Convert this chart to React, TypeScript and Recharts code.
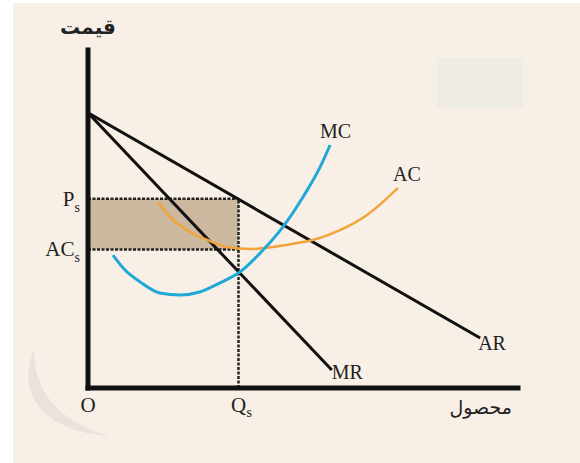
import React from "react";
import { LineChart, Line, XAxis, YAxis, ReferenceArea, ReferenceLine, ReferenceDot, Label } from "recharts";

// quantity on x (0-100), price on y (0-100)
const arPoints = [
  { x: 0, y: 81.4 },
  { x: 91.2, y: 14.8 },
];
const mrPoints = [
  { x: 0, y: 81.4 },
  { x: 56.7, y: 5.3 },
];
const mcPoints = [
  { x: 5.8, y: 39.3 },
  { x: 8.6, y: 34.9 },
  { x: 12.1, y: 31.4 },
  { x: 16.7, y: 28.1 },
  { x: 21.4, y: 27.5 },
  { x: 26.0, y: 28.4 },
  { x: 30.7, y: 31.1 },
  { x: 35.3, y: 34.3 },
  { x: 40.7, y: 40.8 },
  { x: 45.3, y: 47.6 },
  { x: 50.0, y: 56.5 },
  { x: 54.0, y: 65.4 },
  { x: 56.3, y: 71.9 },
];
const acPoints = [
  { x: 16.3, y: 55.0 },
  { x: 19.8, y: 49.7 },
  { x: 23.7, y: 46.2 },
  { x: 27.7, y: 43.8 },
  { x: 32.3, y: 41.7 },
  { x: 37.7, y: 41.1 },
  { x: 43.0, y: 41.7 },
  { x: 48.6, y: 42.9 },
  { x: 52.3, y: 43.8 },
  { x: 58.6, y: 46.7 },
  { x: 64.9, y: 51.2 },
  { x: 72.1, y: 59.2 },
];

const QS = 35;
const PS = 56;
const ACS = 41;

const xTicks = [0, QS];
const yTicks = [ACS, PS];
const xTickLabels: Record<number, [string, string]> = { 0: ["O", ""], [QS]: ["Q", "s"] };
const yTickLabels: Record<number, [string, string]> = { [PS]: ["P", "s"], [ACS]: ["AC", "s"] };

const serif = "'Liberation Serif', 'DejaVu Serif', serif";
const persian = "'DejaVu Sans', sans-serif";
const ink = "#111";

function XTick(props: any) {
  const { x, y, payload } = props;
  const [main, sub] = xTickLabels[payload.value] ?? [String(payload.value), ""];
  return (
    <g>
      <text x={x} y={y + 24} textAnchor="middle" fontFamily={serif} fontSize={21} fill="#222">
        {main}
      </text>
      {sub && (
        <text x={x + 8} y={y + 29} fontFamily={serif} fontSize={14} fill="#222">
          {sub}
        </text>
      )}
    </g>
  );
}

function YTick(props: any) {
  const { x, y, payload } = props;
  const [main, sub] = yTickLabels[payload.value] ?? [String(payload.value), ""];
  return (
    <text x={x} y={y + 7} textAnchor="end" fontFamily={serif} fontSize={21} fill="#222">
      {main}
      <tspan fontSize={14} dy={6}>
        {sub}
      </tspan>
    </text>
  );
}

function curveLabel(text: string, dx: number, dy: number) {
  return (props: any) => {
    const vb = props.viewBox || {};
    return (
      <text x={vb.x + dx} y={vb.y + dy} fontFamily={serif} fontSize={20} fill="#222">
        {text}
      </text>
    );
  };
}

function endOf(points: { x: number; y: number }[]) {
  return points[points.length - 1];
}

export default function App() {
  const dash = "3 1.5";
  return (
    <div style={{ position: "absolute", left: 0, top: 0, width: 580, height: 463, background: "#fff" }}>
      <div style={{ position: "absolute", left: 13, top: 3, width: 567, height: 460, background: "#f8f0e7" }} />
      <svg width={580} height={463} style={{ position: "absolute", left: 0, top: 0 }}>
        <path d="M34 350 C 16 392, 42 432, 110 436 C 68 424, 34 400, 34 350 Z" fill="#e9e3db" />
      </svg>
      <div style={{ position: "absolute", left: 437, top: 58, width: 86, height: 50, background: "#efece4", borderRadius: 2 }} />
      <div style={{ position: "absolute", left: 0, top: 0 }}>
        <LineChart width={580} height={463} margin={{ top: 50, right: 62, bottom: 0, left: 0 }}>
          <XAxis
            type="number"
            dataKey="x"
            domain={[0, 100]}
            ticks={xTicks}
            tick={<XTick />}
            tickLine={false}
            tickSize={0}
            tickMargin={0}
            height={75}
            axisLine={{ stroke: ink, strokeWidth: 5, strokeLinecap: "square" }}
            allowDataOverflow
          />
          <YAxis
            type="number"
            domain={[0, 100]}
            ticks={yTicks}
            tick={<YTick />}
            tickLine={false}
            tickSize={0}
            tickMargin={8}
            width={88}
            axisLine={{ stroke: ink, strokeWidth: 5, strokeLinecap: "square" }}
            allowDataOverflow
          />
          <ReferenceArea x1={0} x2={QS} y1={ACS} y2={PS} fill="#cbb89e" fillOpacity={1} stroke="none" />
          <ReferenceLine segment={[{ x: 0, y: PS }, { x: QS, y: PS }]} stroke="#222" strokeWidth={2.5} strokeDasharray={dash} />
          <ReferenceLine segment={[{ x: 0, y: ACS }, { x: QS, y: ACS }]} stroke="#222" strokeWidth={2.5} strokeDasharray={dash} />
          <ReferenceLine segment={[{ x: QS, y: 0 }, { x: QS, y: PS }]} stroke="#222" strokeWidth={2.5} strokeDasharray={dash} />
          <Line data={arPoints} dataKey="y" type="linear" stroke={ink} strokeWidth={3} dot={false} activeDot={false} isAnimationActive={false} />
          <Line data={mrPoints} dataKey="y" type="linear" stroke={ink} strokeWidth={3} dot={false} activeDot={false} isAnimationActive={false} />
          <Line data={acPoints} dataKey="y" type="monotone" stroke="#f0a43a" strokeWidth={2.5} dot={false} activeDot={false} isAnimationActive={false} />
          <Line data={mcPoints} dataKey="y" type="monotone" stroke="#21a7d8" strokeWidth={3} dot={false} activeDot={false} isAnimationActive={false} />
          <ReferenceDot x={endOf(mcPoints).x} y={endOf(mcPoints).y} r={0} fillOpacity={0} strokeOpacity={0}>
            <Label content={curveLabel("MC", -10, -7)} />
          </ReferenceDot>
          <ReferenceDot x={endOf(acPoints).x} y={endOf(acPoints).y} r={0} fillOpacity={0} strokeOpacity={0}>
            <Label content={curveLabel("AC", -5, -7)} />
          </ReferenceDot>
          <ReferenceDot x={endOf(arPoints).x} y={endOf(arPoints).y} r={0} fillOpacity={0} strokeOpacity={0}>
            <Label content={curveLabel("AR", -2, 12)} />
          </ReferenceDot>
          <ReferenceDot x={endOf(mrPoints).x} y={endOf(mrPoints).y} r={0} fillOpacity={0} strokeOpacity={0}>
            <Label content={curveLabel("MR", 0, 9)} />
          </ReferenceDot>
        </LineChart>
      </div>
      <div style={{ position: "absolute", left: 53, top: 15, width: 70, textAlign: "center", fontFamily: persian, fontSize: 20, fontWeight: 600, color: "#222", direction: "rtl" }}>
        قیمت
      </div>
      <div style={{ position: "absolute", left: 422, top: 396, width: 90, textAlign: "right", fontFamily: persian, fontSize: 19, color: "#222", direction: "rtl" }}>
        محصول
      </div>
    </div>
  );
}
